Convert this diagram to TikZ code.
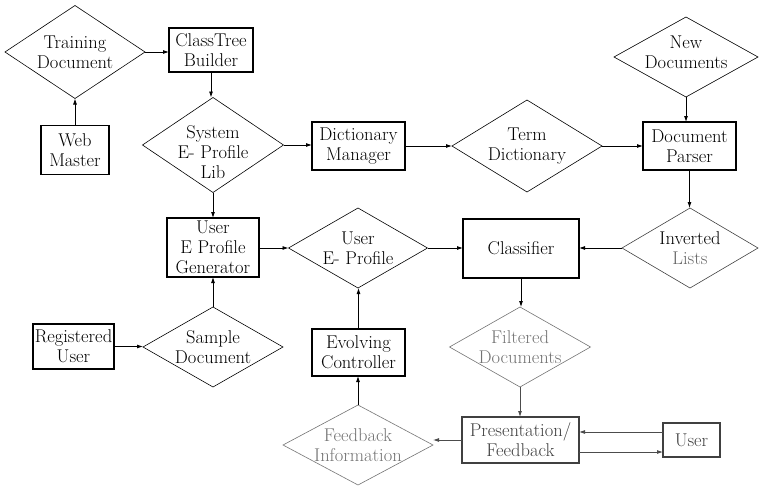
\documentclass[tikz,border=0pt]{standalone}
\usepackage{fontspec}
\usetikzlibrary{shapes.geometric,arrows.meta}
\tikzset{
  every node/.style={font=\fontsize{18.5}{20}\selectfont},
  dia/.style={diamond, draw, inner sep=0pt, outer sep=0pt, line width=0.6pt},
  box/.style={rectangle, draw, inner sep=0pt, outer sep=0pt, line width=1.2pt, align=center},
  arr/.style={-{Latex[length=6pt,width=4pt]}, line width=0.8pt},
  faint/.style={draw=black!55, text=black!55},
  mid/.style={draw=black!75, text=black!75},
}
\begin{document}
\begin{tikzpicture}[x=1pt,y=-1pt]
\useasboundingbox (0,0) rectangle (759,487);
% diamonds
\node[dia, minimum width=140pt, minimum height=93pt,
  label={[align=center]center:Training\\Document}] (td) at (75,52) {};
\node[dia, minimum width=141pt, minimum height=95pt,
  label={[align=center,yshift=-7pt]center:System\\E- Profile\\Lib}] (sl) at (213,145) {};
\node[dia, minimum width=150pt, minimum height=92pt,
  label={[align=center]center:Term\\Dictionary}] (tdi) at (527,146) {};
\node[dia, minimum width=144pt, minimum height=80pt,
  label={[align=center,yshift=5pt]center:New\\Documents}] (nd) at (686,57) {};
\node[dia, minimum width=139pt, minimum height=80pt,
  label={[align=center]center:User\\E- Profile}] (uep) at (358,248) {};
\node[dia, mid, minimum width=136pt, minimum height=80pt,
  label={[align=center,text=black]center:Inverted\\\textcolor{black!60}{Lists}}] (il) at (690,248) {};
\node[dia, minimum width=140pt, minimum height=80pt,
  label={[align=center]center:Sample\\Document}] (sd) at (213,347) {};
\node[dia, faint, minimum width=141pt, minimum height=80pt,
  label={[align=center,text=black!55]center:Filtered\\Documents}] (fd) at (520,347) {};
\node[dia, faint, minimum width=150pt, minimum height=80pt,
  label={[align=center,text=black!55]center:Feedback\\Information}] (fi) at (358,445) {};
% boxes
\node[box, minimum width=84pt, minimum height=44pt] (ctb) at (211,50) {ClassTree\\Builder};
\node[box, minimum width=68pt, minimum height=49pt] (wm) at (75,150) {Web\\Master};
\node[box, minimum width=93pt, minimum height=48pt] (dm) at (358.5,146) {Dictionary\\Manager};
\node[box, minimum width=93pt, minimum height=48pt] (dp) at (689.5,146) {Document\\Parser};
\node[box, minimum width=92pt, minimum height=59pt] (gen) at (213,247.5) {User\\E Profile\\Generator};
\node[box, minimum width=116pt, minimum height=59pt] (cls) at (521,248.5) {Classifier};
\node[box, minimum width=81pt, minimum height=45pt] (ru) at (73.5,346.5) {Registered\\User};
\node[box, minimum width=93pt, minimum height=47pt] (ec) at (358.5,352.5) {Evolving\\Controller};
\node[box, mid, minimum width=117pt, minimum height=46pt] (pf) at (520.5,440) {Presentation/\\Feedback};
\node[box, mid, minimum width=57pt, minimum height=34pt] (usr) at (691.5,440) {User};
% connectors
\draw[arr] (wm) -- (td.south);
\draw[arr] (td.east) -- (td.east -| ctb.west);
\draw[arr] (ctb.south) -- (ctb.south |- sl.north);
\draw[arr] (sl.east) -- (sl.east -| dm.west);
\draw[arr] (dm.east) -- (tdi.west);
\draw[arr] (tdi.east) -- (dp.west);
\draw[arr] (nd.south) -- (nd.south |- dp.north);
\draw[arr] (dp.south) -- (dp.south |- il.north);
\draw[arr] (il.west) -- (il.west -| cls.east);
\draw[arr] (uep.east) -- (uep.east -| cls.west);
\draw[arr] (gen.east |- uep.west) -- (uep.west);
\draw[arr] (sl.south) -- (gen.north);
\draw[arr] (sd.north) -- (gen.south);
\draw[arr] (ru.east) -- (ru.east -| sd.west);
\draw[arr] (ec.north) -- (ec.north |- uep.south);
\draw[arr] (fi.north) -- (fi.north |- ec.south);
\draw[arr] (cls.south) -- (cls.south |- fd.north);
\draw[arr, black!70] (fd.south) -- (fd.south |- pf.north);
\draw[arr, black!70] (pf.west) -- (pf.west -| fi.east);
\draw[arr, black!70] ([yshift=8pt]usr.west) -- ([yshift=8pt]usr.west -| pf.east);
\draw[arr, black!70] ([yshift=-12pt]pf.east) -- ([yshift=-12pt]pf.east -| usr.west);
\end{tikzpicture}
\end{document}
